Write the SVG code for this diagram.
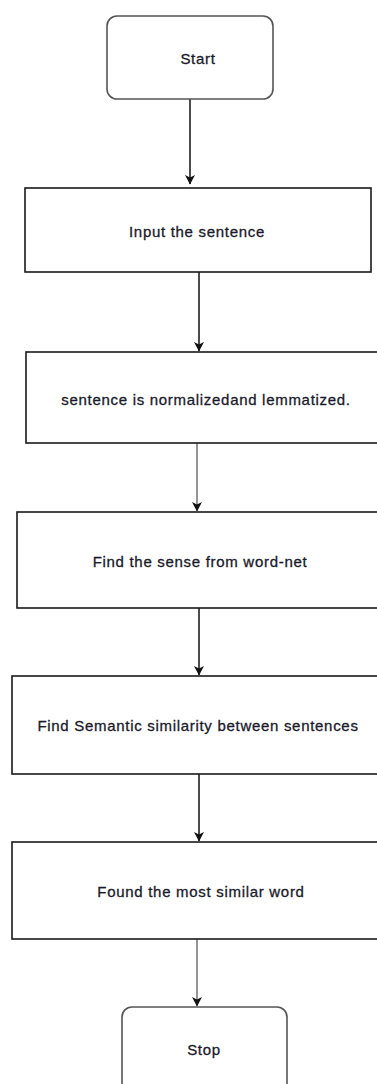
<svg xmlns="http://www.w3.org/2000/svg" width="377" height="1084" viewBox="0 0 377 1084">
  <style>
    .box { fill: #ffffff; stroke: #1a1a1a; stroke-width: 1.6; }
    .term { fill: #ffffff; stroke: #555555; stroke-width: 1.6; }
    .lbl { font-family: "Liberation Sans", Arial, sans-serif; font-size: 15px; letter-spacing: 0.7px; fill: #1a1a2a; stroke: #1a1a2a; stroke-width: 0.3; text-anchor: middle; }
    .edge { fill: none; stroke: #111111; stroke-width: 1.5; }
    .edge.grey { stroke: #8a8a8a; stroke-width: 1.8; }
  </style>
  <defs>
    <marker id="arrow" markerUnits="userSpaceOnUse" markerWidth="10" markerHeight="11" refX="9" refY="5.5" orient="auto">
      <path d="M0,0.5 L9.5,5.5 L0,10.5 L2.5,5.5 Z" fill="#111111"/>
    </marker>
  </defs>
  <rect width="377" height="1084" fill="#ffffff"/>

  <g id="connectors">
    <line class="edge" x1="190" y1="99" x2="190" y2="184" marker-end="url(#arrow)"/>
    <line class="edge" x1="199" y1="272" x2="199" y2="351" marker-end="url(#arrow)"/>
    <line class="edge grey" x1="197" y1="443" x2="197" y2="511" marker-end="url(#arrow)"/>
    <line class="edge" x1="199" y1="608" x2="199" y2="675" marker-end="url(#arrow)"/>
    <line class="edge" x1="199" y1="757" x2="199" y2="841" marker-end="url(#arrow)"/>
    <line class="edge grey" x1="197" y1="939" x2="197" y2="1006" marker-end="url(#arrow)"/>
  </g>

  <g id="start">
    <rect class="term" x="107" y="16" width="166" height="83" rx="10" ry="10"/>
    <text class="lbl" x="198" y="64">Start</text>
  </g>
  <g id="input">
    <rect class="box" x="25" y="188" width="346" height="84"/>
    <text class="lbl" x="197" y="237">Input the sentence</text>
  </g>
  <g id="normalize">
    <rect class="box" x="26" y="352" width="360" height="91"/>
    <text class="lbl" x="206" y="405">sentence is normalizedand lemmatized.</text>
  </g>
  <g id="sense">
    <rect class="box" x="17" y="512" width="369" height="96"/>
    <text class="lbl" x="200" y="567">Find the sense from word-net</text>
  </g>
  <g id="similarity">
    <rect class="box" x="12" y="676" width="374" height="98"/>
    <text class="lbl" x="198" y="731">Find Semantic similarity between sentences</text>
  </g>
  <g id="found">
    <rect class="box" x="12" y="842" width="374" height="97"/>
    <text class="lbl" x="201" y="897">Found the most similar word</text>
  </g>
  <g id="stop">
    <rect class="term" x="122" y="1007" width="165" height="90" rx="10" ry="10"/>
    <text class="lbl" x="204" y="1055">Stop</text>
  </g>
</svg>
